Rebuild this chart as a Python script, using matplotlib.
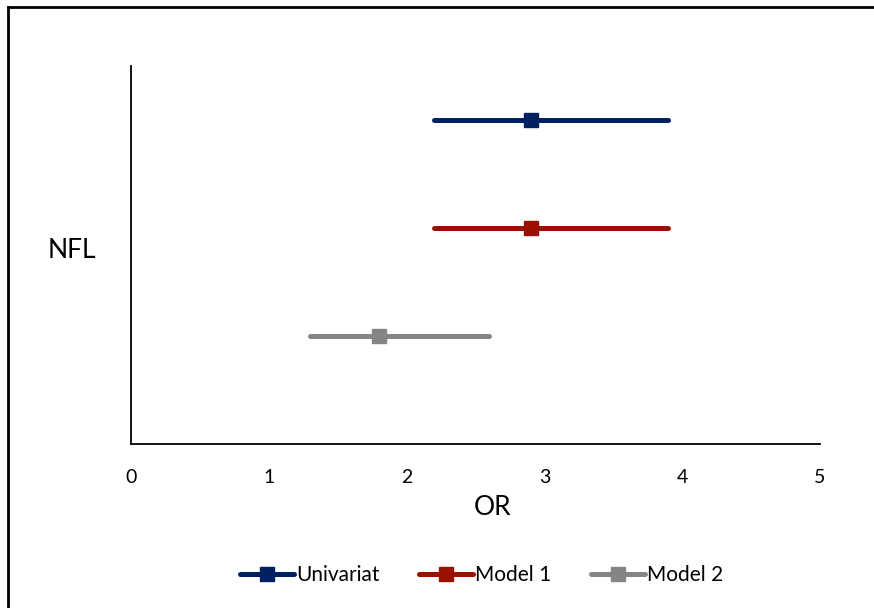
import matplotlib
matplotlib.use("Agg")
import matplotlib.pyplot as plt
from matplotlib.lines import Line2D

plt.rcParams['font.family'] = ['Lato', 'DejaVu Sans']

# forest plot data (odds ratios with CI)
models = ["Univariat", "Model 1", "Model 2"]
or_values = [2.9, 2.9, 1.8]
ci_low = [2.2, 2.2, 1.3]
ci_high = [3.9, 3.9, 2.6]
y_pos = [3, 2, 1]
colors = ["#002060", "#991100", "#858585"]
xticks = [0, 1, 2, 3, 4, 5]

fig = plt.figure(figsize=(8.74, 6.08), dpi=100)
ax = fig.add_axes([0.1499, 0.2697, 0.7883, 0.6217])

for i in range(len(models)):
    ax.plot([ci_low[i], ci_high[i]], [y_pos[i], y_pos[i]], color=colors[i],
            lw=3.6, solid_capstyle='round', zorder=2)
    ax.plot(or_values[i], y_pos[i], marker='s', ms=10, color=colors[i],
            lw=0, zorder=3)

ax.set_xlim(0, 5)
ax.set_ylim(0, 3.5)
ax.set_xticks(xticks)
ax.set_xticklabels([str(t) for t in xticks], fontsize=14)
ax.set_yticks([])
ax.tick_params(axis='x', length=0, pad=18)
for s in ['top', 'right']:
    ax.spines[s].set_visible(False)
for s in ['left', 'bottom']:
    ax.spines[s].set_linewidth(1.3)
ax.set_xlabel("OR", fontsize=19)
ax.xaxis.set_label_coords(0.525, -0.135)
fig.text(72 / 874, 1 - 251 / 608, "NFL", fontsize=19, ha='center', va='center')

handles = [Line2D([0], [0], color=c, lw=3.6, marker='s', ms=10, solid_capstyle='round')
           for c in colors]
fig.legend(handles, models, loc='center', bbox_to_anchor=(0.551, 1 - 575 / 608),
           ncol=3, frameon=False, fontsize=15, handlelength=2.6,
           handletextpad=0.1, columnspacing=1.9)

# outer border (left and top only)
fig.add_artist(Line2D([7.5 / 874, 7.5 / 874], [0, 1 - 7 / 608], color='black', lw=2))
fig.add_artist(Line2D([7.5 / 874, 1], [1 - 7 / 608, 1 - 7 / 608], color='black', lw=2))

fig.savefig("out.png", dpi=100)
